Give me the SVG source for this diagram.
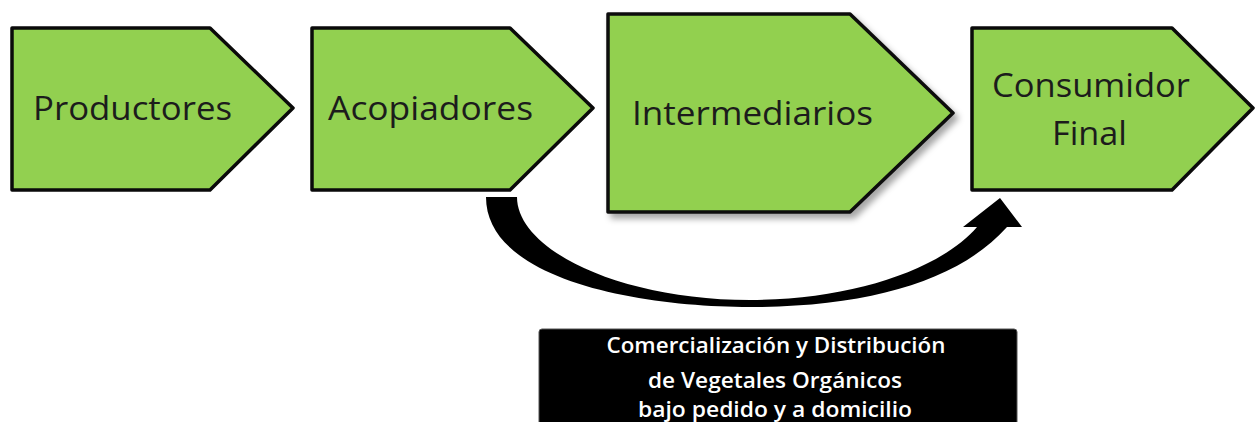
<svg xmlns="http://www.w3.org/2000/svg" width="1260" height="422" viewBox="0 0 1260 422">
  <style>
    .node { fill: #92D050; stroke: #0a0a0a; stroke-width: 3.5; stroke-linejoin: round; }
    .lbl { font-family: "Open Sans", "Noto Sans", sans-serif; font-size: 33px; fill: #1c1c1c; }
    .cap { font-family: "Open Sans", "Noto Sans", sans-serif; font-size: 22px; font-weight: 600; fill: #ffffff; text-anchor: middle; }
  </style>
  <defs>
    <filter id="shadow" x="-10%" y="-10%" width="130%" height="130%">
      <feDropShadow dx="4" dy="5" stdDeviation="3" flood-color="#000" flood-opacity="0.35"/>
    </filter>
  </defs>
  <rect width="1260" height="422" fill="#ffffff"/>

  <g id="connectors">
    <path d="M486,197 L517,197 C517,250 620,300 750,300 C850,300 940,270 977,227 L963,227 L1000,198 L1022,227 L1007,227 C960,280 870,307 750,307 C640,307 486,280 486,197 Z" fill="#000000"/>
  </g>

  <g id="productores">
    <polygon class="node" points="12,28 210,28 293,108 210,190 12,190"/>
    <text class="lbl" x="33" y="120" textLength="199" lengthAdjust="spacingAndGlyphs">Productores</text>
  </g>

  <g id="acopiadores">
    <polygon class="node" points="312,28 510,28 593,108 510,190 312,190"/>
    <text class="lbl" x="328" y="120" textLength="205" lengthAdjust="spacingAndGlyphs">Acopiadores</text>
  </g>

  <g id="intermediarios">
    <polygon class="node" points="608,14 850,14 953,113 850,212 608,212" filter="url(#shadow)"/>
    <text class="lbl" x="632" y="125" textLength="241" lengthAdjust="spacingAndGlyphs">Intermediarios</text>
  </g>

  <g id="consumidor">
    <polygon class="node" points="972,28 1172,28 1253,108 1172,190 972,190"/>
    <text class="lbl" x="992" y="97" textLength="198" lengthAdjust="spacingAndGlyphs">Consumidor</text>
    <text class="lbl" x="1052" y="145" textLength="75" lengthAdjust="spacingAndGlyphs">Final</text>
  </g>

  <g id="caption">
    <rect x="539" y="329" width="478" height="100" rx="3" fill="#000000" stroke="#555" stroke-width="1"/>
    <text class="cap" x="776" y="353" textLength="339" lengthAdjust="spacingAndGlyphs">Comercialización y Distribución</text>
    <text class="cap" x="775" y="388" textLength="254" lengthAdjust="spacingAndGlyphs">de Vegetales Orgánicos</text>
    <text class="cap" x="775" y="417" textLength="274" lengthAdjust="spacingAndGlyphs">bajo pedido y a domicilio</text>
  </g>
</svg>
